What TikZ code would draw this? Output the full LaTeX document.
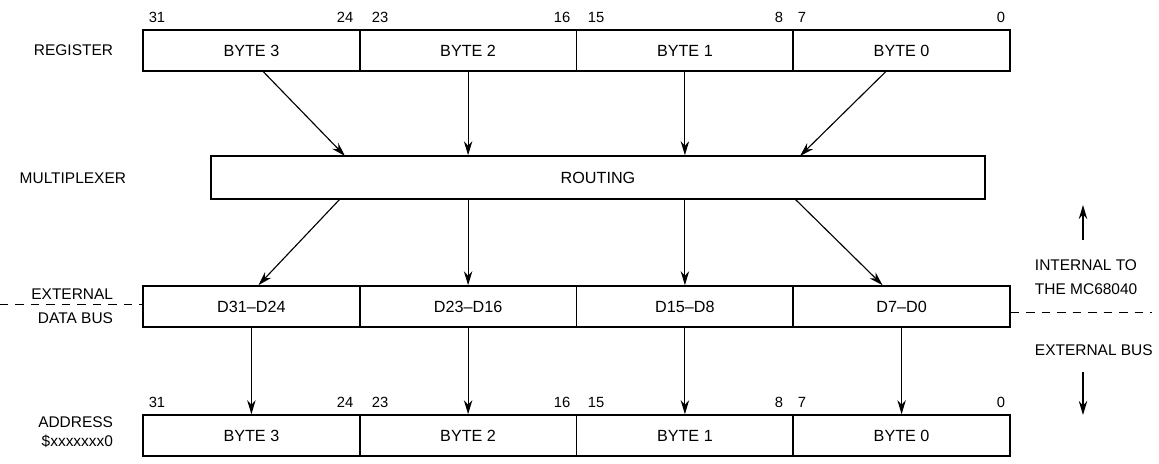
\documentclass[tikz,border=0pt]{standalone}
\usepackage{fontspec}
\setmainfont{Liberation Sans}
\usetikzlibrary{arrows.meta,calc}

\begin{document}
\begin{tikzpicture}[x=0.025cm, y=-0.025cm, >={Stealth[length=10pt,width=6pt]},
  field/.style={draw, line width=1.1pt, minimum width=5.419cm, minimum height=1.025cm, inner sep=0pt, font=\fontsize{11.5}{13}\selectfont},
  bitno/.style={font=\fontsize{10.5}{12}\selectfont},
  side/.style={align=right, anchor=east, font=\fontsize{11}{17}\selectfont},
  flow/.style={->, line width=0.8pt}]
\useasboundingbox (0,0) rectangle (1159,463);

% register, bus and memory rows
\node[field] (r3) at (251.4,50.5) {BYTE 3};
\node[field] (r2) at (468.1,50.5) {BYTE 2};
\node[field] (r1) at (684.9,50.5) {BYTE 1};
\node[field] (r0) at (901.6,50.5) {BYTE 0};
\node[field, minimum width=19.35cm, minimum height=1.075cm] (mux) at (598,177.5) {ROUTING};
\node[field] (d3) at (251.4,306.5) {D31--D24};
\node[field] (d2) at (468.1,306.5) {D23--D16};
\node[field] (d1) at (684.9,306.5) {D15--D8};
\node[field] (d0) at (901.6,306.5) {D7--D0};
\node[field] (a3) at (251.4,435.5) {BYTE 3};
\node[field] (a2) at (468.1,435.5) {BYTE 2};
\node[field] (a1) at (684.9,435.5) {BYTE 1};
\node[field] (a0) at (901.6,435.5) {BYTE 0};

% bit numbers
\foreach \num/\px in {31/157, 24/345, 23/380, 16/562, 15/596, 8/779, 7/802, 0/1001} {
  \node[bitno] (t\num) at (\px,17) {\num};
  \node[bitno] (u\num) at (\px,402) {\num};
}

% row names
\node[side] (lreg) at (118,50.5) {REGISTER};
\node[side] (lmux) at (131,178) {MULTIPLEXER};
\node[side] (lbus) at (118,306) {EXTERNAL\\DATA BUS};
\node[side, font=\fontsize{11}{13}\selectfont] (ladr) at (118,432) {ADDRESS\\\$xxxxxxx0};

% register to multiplexer
\coordinate (m3n) at (345,156);
\coordinate (m0n) at (800,156);
\coordinate (m3s) at (340,199);
\coordinate (m0s) at (795,199);
\draw[flow] ($(r3.south)+(12,0)$) -- (m3n);
\draw[flow] (r2.south) -- (r2.south |- mux.north);
\draw[flow] (r1.south) -- (r1.south |- mux.north);
\draw[flow] ($(r0.south)+(-16,0)$) -- (m0n);

% multiplexer to bus
\draw[flow] (m3s) -- ($(d3.north)+(7,0)$);
\draw[flow] (mux.south -| d2.north) -- (d2.north);
\draw[flow] (mux.south -| d1.north) -- (d1.north);
\draw[flow] (m0s) -- ($(d0.north)+(-19,0)$);

% bus to memory
\draw[flow] (d3.south) -- (a3.north);
\draw[flow] (d2.south) -- (a2.north);
\draw[flow] (d1.south) -- (a1.north);
\draw[flow] (d0.south) -- (a0.north);

% chip boundary
\coordinate (dl) at (0,304);
\coordinate (dr) at (1152,312);
\draw[dashed, dash pattern=on 6pt off 5pt] (dl) -- (d3.west |- dl);
\draw[dashed, dash pattern=on 6pt off 5pt] (d0.east |- dr) -- (dr);
\node[side, anchor=west, align=left] (inside) at (1030,277) {INTERNAL TO\\THE MC68040};
\node[side, anchor=west, align=left] (outside) at (1030,350) {EXTERNAL BUS};
\coordinate (upa) at (1083,240);
\coordinate (upb) at (1083,205);
\coordinate (dna) at (1083,372);
\coordinate (dnb) at (1083,415);
\draw[flow] (upa) -- (upb);
\draw[flow] (dna) -- (dnb);
\end{tikzpicture}
\end{document}
